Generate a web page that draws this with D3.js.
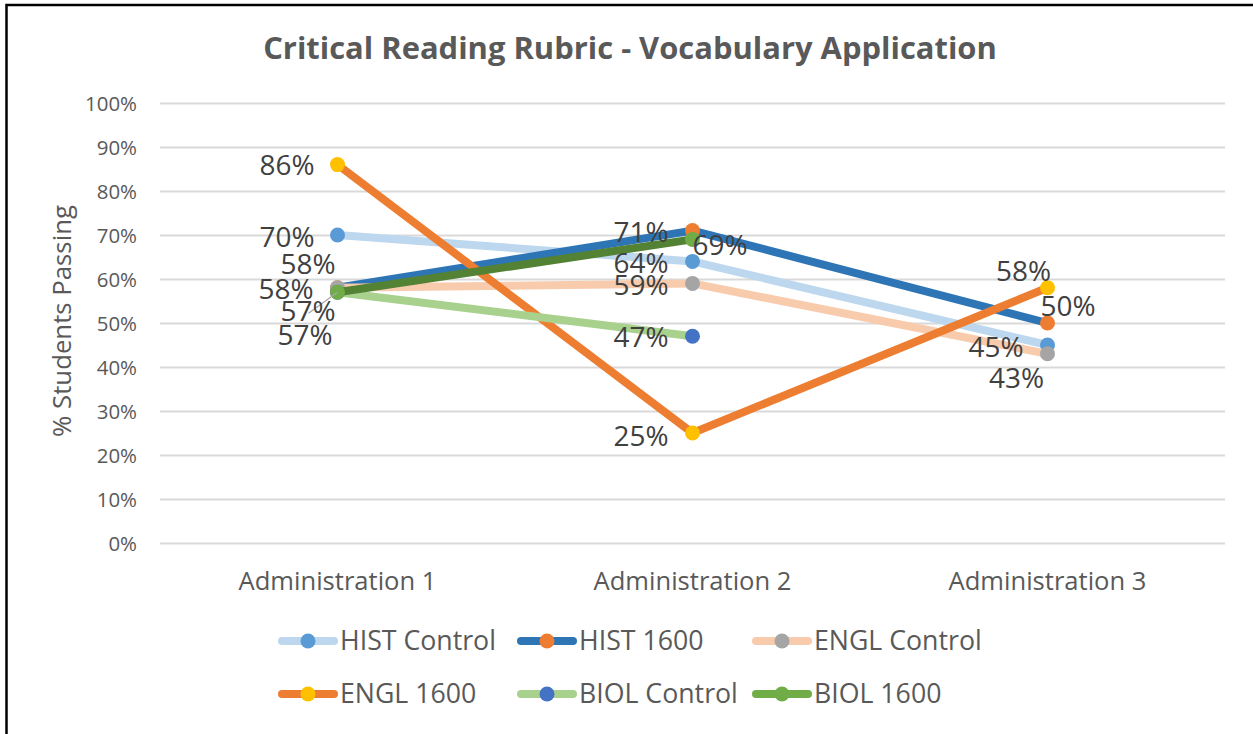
<!DOCTYPE html>
<html>
<head>
<meta charset="utf-8">
<script src="https://cdn.jsdelivr.net/npm/d3@7"></script>
<style>
  html, body { margin: 0; padding: 0; background: #fff; }
  svg { display: block; }
</style>
</head>
<body>
<svg id="chart" width="1253" height="734"></svg>
<script>
// ---------------- DATA ----------------
const categories = ["Administration 1", "Administration 2", "Administration 3"];
const seriesNames = ["HIST Control", "HIST 1600", "ENGL Control", "ENGL 1600", "BIOL Control", "BIOL 1600"];
const histControl = [70, 64, 45];
const hist1600    = [58, 71, 50];
const englControl = [58, 59, 43];
const engl1600    = [86, 25, 58];
const biolControl = [57, 47, null];
const biol1600    = [57, 69, null];
const yTickValues = [0, 10, 20, 30, 40, 50, 60, 70, 80, 90, 100];
const titleText = "Critical Reading Rubric - Vocabulary Application";
const yTitleText = "% Students Passing";

// ---------------- STYLE / LAYOUT CONFIG ----------------
const lineColors   = ["#BDD7EE", "#2E75B6", "#F8CBAD", "#ED7D31", "#A9D18E", "#548235"];
const legendLineColors = ["#BDD7EE", "#2E75B6", "#F8CBAD", "#ED7D31", "#A9D18E", "#70AD47"];
const markerColors = ["#5B9BD5", "#ED7D31", "#A5A5A5", "#FFC000", "#4472C4", "#70AD47"];
// label placement per series per point: [dx, dy, anchor]
const labelPlacement = [
  [[-23, 2, "end"], [-24, 2, "end"], [-24, 2, "end"]],
  [[-2, -24, "end"], [-24, 1, "end"], [-7, -17, "start"]],
  [[-24, 1, "end"], [-24, 2, "end"], [-31, 24, "middle"]],
  [[-23, 0, "end"], [-24, 3, "end"], [-24, -17, "middle"]],
  [[-5, 43, "end"], [-24, 1, "end"], null],
  [[-2, 19, "end"], [0, 6, "start"], null]
];
const leaderSeries = 5, leaderPoint = 0, leaderEnd = [-29, 21];

const allSeries = [histControl, hist1600, englControl, engl1600, biolControl, biol1600];

const svg = d3.select("#chart");
const FONT = "'Open Sans', 'Noto Sans', sans-serif";

// fit font size to match target width
function fitSize(text, family, weight, target) {
  const t = svg.append("text").attr("font-family", family).attr("font-weight", weight)
    .attr("font-size", 100).text(text);
  const w = t.node().getComputedTextLength();
  t.remove();
  return 100 * target / w;
}
const fsTitle  = fitSize(titleText, "'Liberation Sans Narrow', " + FONT, "bold", 734);
const fsTick   = fitSize("100%", FONT, "normal", 52);
const fsCat    = fitSize("Administration 1", FONT, "normal", 198);
const fsYTitle = fitSize(yTitleText, FONT, "normal", 232);
const fsLegend = fitSize("HIST Control", FONT, "normal", 156);
const fsLabel  = fitSize("86%", FONT, "normal", 55);

// border
svg.append("rect").attr("x", 6.5).attr("y", 5).attr("width", 1400).attr("height", 900)
  .attr("fill", "none").attr("stroke", "#000").attr("stroke-width", 2.5);

// scales
const x = d3.scaleBand().domain(categories).range([160, 1225]).padding(0);
const cx = c => x(c) + x.bandwidth() / 2;
const y = d3.scaleLinear().domain([0, 100]).range([543, 103]);

// y axis with gridlines
const yAxis = d3.axisLeft(y).tickValues(yTickValues).tickFormat(d => d + "%")
  .tickSize(-(1225 - 160)).tickPadding(23);
const gy = svg.append("g").attr("transform", "translate(160,0)").call(yAxis);
gy.select(".domain").remove();
gy.selectAll(".tick line").attr("stroke", "#D9D9D9").attr("stroke-width", 2);
gy.selectAll(".tick text").attr("fill", "#595959").attr("font-family", FONT)
  .attr("font-size", fsTick).attr("dy", "0.35em");

// x axis
const xAxis = d3.axisBottom(x).tickSize(0).tickPadding(0);
const gx = svg.append("g").attr("transform", "translate(0,581)").call(xAxis);
gx.select(".domain").remove();
gx.selectAll(".tick text").attr("fill", "#595959").attr("font-family", FONT)
  .attr("font-size", fsCat).attr("y", 0).attr("dy", "0.35em");

// title
svg.append("text").attr("x", 630).attr("y", 48).attr("dy", "0.35em")
  .attr("text-anchor", "middle").attr("font-family", "'Liberation Sans Narrow', " + FONT)
  .attr("font-weight", "bold").attr("font-size", fsTitle).attr("fill", "#595959")
  .text(titleText);

// y title
svg.append("text").attr("transform", "translate(62,321) rotate(-90)").attr("dy", "0.35em")
  .attr("text-anchor", "middle").attr("font-family", FONT).attr("font-size", fsYTitle)
  .attr("fill", "#595959").text(yTitleText);

// series
const line = d3.line().defined(d => d.v !== null).x(d => cx(d.c)).y(d => y(d.v));
allSeries.forEach((vals, i) => {
  const pts = vals.map((v, j) => ({ c: categories[j], v }));
  const g = svg.append("g");
  g.append("path").attr("d", line(pts)).attr("fill", "none")
    .attr("stroke", lineColors[i]).attr("stroke-width", 8)
    .attr("stroke-linecap", "round").attr("stroke-linejoin", "round");
  g.selectAll("circle").data(pts.filter(d => d.v !== null)).join("circle")
    .attr("cx", d => cx(d.c)).attr("cy", d => y(d.v)).attr("r", 7.5)
    .attr("fill", markerColors[i]);
});

// leader line
{
  const px = cx(categories[leaderPoint]), py = y(allSeries[leaderSeries][leaderPoint]);
  svg.append("line").attr("x1", px).attr("y1", py)
    .attr("x2", px + leaderEnd[0]).attr("y2", py + leaderEnd[1])
    .attr("stroke", "#A6A6A6").attr("stroke-width", 1.2);
}

// data labels
allSeries.forEach((vals, i) => {
  vals.forEach((v, j) => {
    if (v === null || !labelPlacement[i][j]) return;
    const [dx, dy, anchor] = labelPlacement[i][j];
    svg.append("text").attr("x", cx(categories[j]) + dx).attr("y", y(v) + dy)
      .attr("dy", "0.36em").attr("text-anchor", anchor)
      .attr("font-family", FONT).attr("font-size", fsLabel).attr("fill", "#404040")
      .text(v + "%");
  });
});

// legend
const legCols = [278, 517, 752], legRows = [641, 694];
seriesNames.forEach((name, i) => {
  const lx = legCols[i % 3], ly = legRows[Math.floor(i / 3)];
  const g = svg.append("g").attr("transform", `translate(${lx},${ly})`);
  g.append("line").attr("x1", 4).attr("x2", 56).attr("y1", 0).attr("y2", 0)
    .attr("stroke", legendLineColors[i]).attr("stroke-width", 8).attr("stroke-linecap", "round");
  g.append("circle").attr("cx", 30).attr("cy", 0).attr("r", 7.5).attr("fill", markerColors[i]);
  g.append("text").attr("x", 62).attr("y", 0).attr("dy", "0.35em")
    .attr("font-family", FONT).attr("font-size", fsLegend).attr("fill", "#595959").text(name);
});
</script>
</body>
</html>
